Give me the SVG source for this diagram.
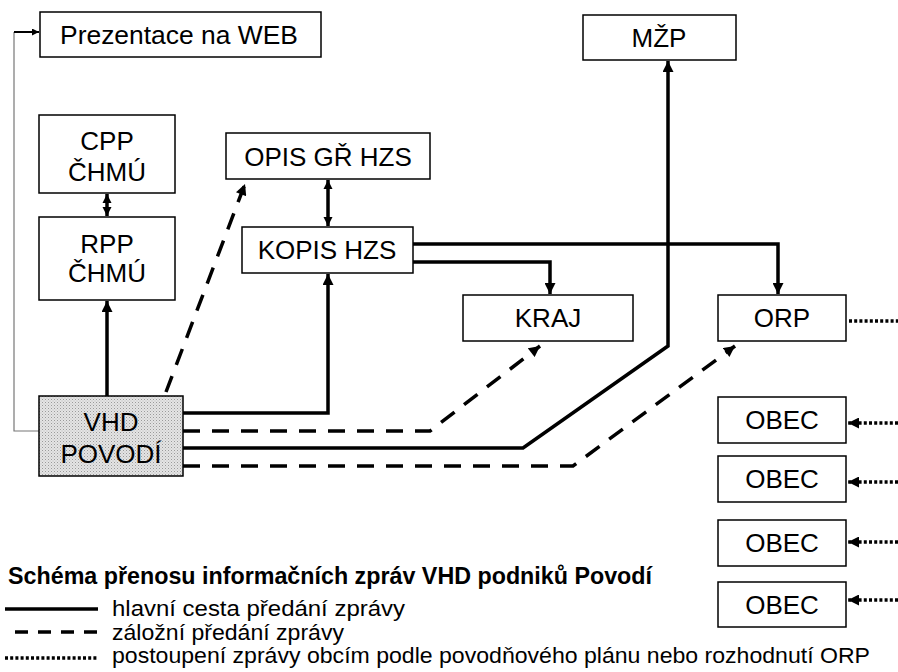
<svg xmlns="http://www.w3.org/2000/svg" width="898" height="672" viewBox="0 0 898 672">
<style>
.box{fill:#fff;stroke:#000;stroke-width:1.5}
.t{font-family:"Liberation Sans",Arial,sans-serif;font-size:26px;fill:#000;text-anchor:middle}
.lg{font-family:"Liberation Sans",Arial,sans-serif;font-size:22px;fill:#000}
.title{font-family:"Liberation Sans",Arial,sans-serif;font-size:23px;font-weight:bold;fill:#000}
.solid{fill:none;stroke:#000;stroke-width:3.5}
.dash{fill:none;stroke:#000;stroke-width:3.5;stroke-dasharray:17 12}
.dot{fill:none;stroke:#000;stroke-width:3.5;stroke-dasharray:3 2.2}
</style>
<defs>
<marker id="ah" viewBox="0 0 10 10" refX="10" refY="5" markerWidth="12" markerHeight="11" markerUnits="userSpaceOnUse" orient="auto">
<path d="M0,0 L10,5 L0,10 z" fill="#000"/>
</marker>
<marker id="ahd" viewBox="0 0 10 10" refX="10" refY="5" markerWidth="9" markerHeight="10" markerUnits="userSpaceOnUse" orient="auto">
<path d="M0,0 L10,5 L0,10 z" fill="#000"/>
</marker>
<marker id="ahds" viewBox="0 0 10 10" refX="0" refY="5" markerWidth="9" markerHeight="10" markerUnits="userSpaceOnUse" orient="auto">
<path d="M10,0 L0,5 L10,10 z" fill="#000"/>
</marker>
<marker id="ahsm" viewBox="0 0 10 10" refX="10" refY="5" markerWidth="8" markerHeight="7" markerUnits="userSpaceOnUse" orient="auto">
<path d="M0,0 L10,5 L0,10 z" fill="#000"/>
</marker>
<pattern id="dots" width="3" height="3" patternUnits="userSpaceOnUse">
<rect width="3" height="3" fill="#e4e4e4"/>
<rect width="1" height="1" fill="#9a9a9a"/>
<rect x="1.5" y="1.5" width="1" height="1" fill="#b8b8b8"/>
</pattern>
</defs>

<g id="connectors">
<polyline points="39,431 14,431 14,32" fill="none" stroke="#777" stroke-width="1.2"/>
<line x1="14" y1="32" x2="39" y2="32" stroke="#000" stroke-width="2" marker-end="url(#ahsm)"/>
<line x1="107" y1="194" x2="107" y2="216" class="solid" stroke-width="3" marker-start="url(#ahds)" marker-end="url(#ahd)"/>
<line x1="107" y1="396" x2="107" y2="301" class="solid" marker-end="url(#ah)"/>
<line x1="328" y1="180" x2="328" y2="226" class="solid" marker-start="url(#ahds)" marker-end="url(#ahd)"/>
<polyline points="183,413 328,413 328,274" class="solid" marker-end="url(#ah)"/>
<polyline points="413,244 778,244 778,294" class="solid" marker-end="url(#ah)"/>
<polyline points="413,262 550,262 550,294" class="solid" marker-end="url(#ah)"/>
<polyline points="183,448 523,448 668,346 668,61" class="solid" marker-end="url(#ah)"/>
<polyline points="183,431 430,431 540,346" class="dash" marker-end="url(#ah)"/>
<polyline points="183,466 573,466 735,346" class="dash" marker-end="url(#ah)"/>
<line x1="166" y1="392" x2="245" y2="184" class="dash" marker-end="url(#ah)"/>
<line x1="849" y1="321" x2="898" y2="321" class="dot"/>
<line x1="898" y1="423" x2="848" y2="423" class="dot" marker-end="url(#ah)"/>
<line x1="898" y1="482" x2="848" y2="482" class="dot" marker-end="url(#ah)"/>
<line x1="898" y1="542" x2="848" y2="542" class="dot" marker-end="url(#ah)"/>
<line x1="898" y1="600" x2="848" y2="600" class="dot" marker-end="url(#ah)"/>
</g>

<g id="web"><rect class="box" x="40" y="12" width="281" height="45"/><text class="t" x="179" y="43.5" textLength="238" lengthAdjust="spacingAndGlyphs">Prezentace na WEB</text></g>
<g id="mzp"><rect class="box" x="583" y="15" width="153" height="45"/><text class="t" x="659" y="47">MŽP</text></g>
<g id="cpp"><rect class="box" x="39" y="115" width="136" height="78"/><text class="t" x="107" y="150">CPP</text><text class="t" x="107" y="181">ČHMÚ</text></g>
<g id="rpp"><rect class="box" x="39" y="217" width="136" height="83"/><text class="t" x="107" y="253">RPP</text><text class="t" x="107" y="282">ČHMÚ</text></g>
<g id="opis"><rect class="box" x="226" y="133" width="204" height="46"/><text class="t" x="328" y="166">OPIS GŘ HZS</text></g>
<g id="kopis"><rect class="box" x="242" y="227" width="171" height="46"/><text class="t" x="327" y="259">KOPIS HZS</text></g>
<g id="kraj"><rect class="box" x="463" y="295" width="170" height="46"/><text class="t" x="548" y="327">KRAJ</text></g>
<g id="orp"><rect class="box" x="718" y="295" width="128" height="46"/><text class="t" x="782" y="327">ORP</text></g>
<g id="vhd"><rect x="39" y="396" width="144" height="80" fill="url(#dots)" stroke="#000" stroke-width="1.5"/><text class="t" x="111" y="431">VHD</text><text class="t" x="111" y="463">POVODÍ</text></g>
<g id="obec1"><rect class="box" x="718" y="397" width="128" height="46"/><text class="t" x="782" y="429">OBEC</text></g>
<g id="obec2"><rect class="box" x="718" y="456" width="128" height="46"/><text class="t" x="782" y="488">OBEC</text></g>
<g id="obec3"><rect class="box" x="718" y="520" width="128" height="46"/><text class="t" x="782" y="552">OBEC</text></g>
<g id="obec4"><rect class="box" x="718" y="582" width="128" height="45"/><text class="t" x="782" y="614">OBEC</text></g>

<g id="legend">
<text class="title" x="8" y="584" textLength="644" lengthAdjust="spacingAndGlyphs">Schéma přenosu informačních zpráv VHD podniků Povodí</text>
<line x1="5" y1="609" x2="98" y2="609" stroke="#000" stroke-width="3.5"/>
<text class="lg" x="112" y="616" textLength="293" lengthAdjust="spacingAndGlyphs">hlavní cesta předání zprávy</text>
<line x1="15" y1="632" x2="98" y2="632" stroke="#000" stroke-width="3.5" stroke-dasharray="13 10"/>
<text class="lg" x="112" y="640" textLength="232" lengthAdjust="spacingAndGlyphs">záložní předání zprávy</text>
<line x1="5" y1="658" x2="98" y2="658" stroke="#000" stroke-width="3.5" stroke-dasharray="3 2.2"/>
<text class="lg" x="112" y="663" textLength="758" lengthAdjust="spacingAndGlyphs">postoupení zprávy obcím podle povodňového plánu nebo rozhodnutí ORP</text>
</g>
</svg>
